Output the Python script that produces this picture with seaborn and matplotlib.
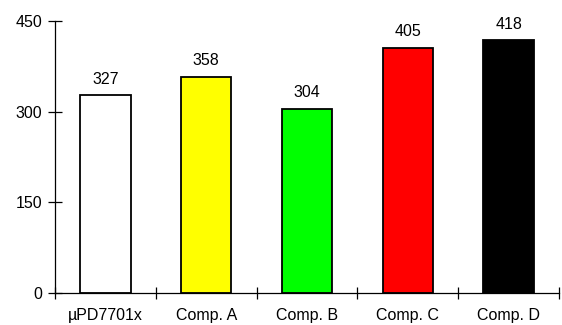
import matplotlib
matplotlib.use("Agg")
import matplotlib.pyplot as plt
import seaborn as sns
import numpy as np
import pandas as pd

categories = ["µPD7701x", "Comp. A", "Comp. B", "Comp. C", "Comp. D"]
values = [327, 358, 304, 405, 418]
colors = ["#FFFFFF", "#FFFF00", "#00FF00", "#FF0000", "#000000"]
y_ticks = [0, 150, 300, 450]

sns.set_theme(style="white")
plt.rcParams["font.family"] = ["Liberation Sans", "DejaVu Sans"]

df = pd.DataFrame({"device": categories, "score": values})

fig = plt.figure(figsize=(5.62, 3.25), dpi=100)
ax = fig.add_axes([55 / 562, 32 / 325, 504 / 562, 272 / 325])

sns.barplot(data=df, x="device", y="score", hue="device", palette=colors,
            legend=False, width=0.5, edgecolor="black", linewidth=1.3,
            saturation=1, ax=ax)

# value labels sitting just above each bar
for i, v in enumerate(values):
    ax.annotate(str(v), xy=(i, v), xytext=(0, 8.5), textcoords="offset points",
                ha="center", va="baseline", fontsize=11.5, color="black")

ax.set_xlim(-0.5, len(categories) - 0.5)
ax.set_ylim(0, 450)
ax.set_yticks(y_ticks)
ax.set_xlabel("")
ax.set_ylabel("")

# category separators on the x axis
ax.set_xticks(np.arange(len(categories) + 1) - 0.5, minor=True)
ax.tick_params(axis="x", which="major", length=0, pad=11, labelsize=11.5, colors="black")
ax.tick_params(axis="x", which="minor", direction="inout", length=8, width=0.9, color="black", bottom=True)
ax.tick_params(axis="y", which="major", direction="inout", length=10, width=0.9, color="black",
               left=True, labelsize=11.5, pad=4, labelcolor="black")

sns.despine(ax=ax, top=True, right=True)
for side in ("left", "bottom"):
    ax.spines[side].set_color("black")
    ax.spines[side].set_linewidth(0.9)

fig.savefig("out.png", dpi=100)
